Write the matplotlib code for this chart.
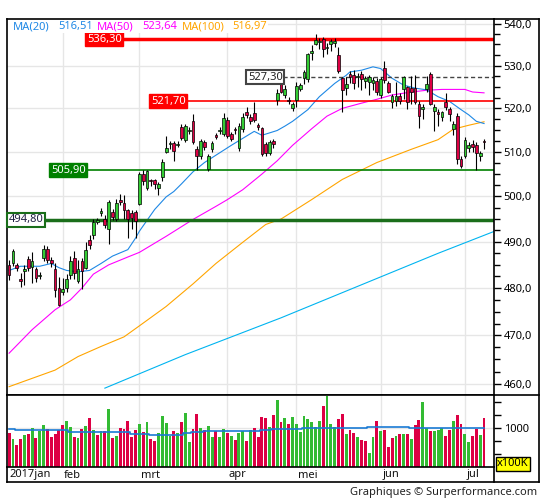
import matplotlib
matplotlib.use("Agg")
import matplotlib.pyplot as plt
from matplotlib.lines import Line2D
from matplotlib.patches import Rectangle
from matplotlib.ticker import FixedLocator, FuncFormatter, NullFormatter
from matplotlib.transforms import blended_transform_factory
import numpy as np
import pandas as pd

plt.rcParams['font.family'] = ['Noto Sans', 'DejaVu Sans']

### Data: AEX daily bars, 12 jan - 10 jul 2017
days = pd.bdate_range('2017-01-12', '2017-07-10')
days = days.drop(pd.to_datetime(['2017-04-14', '2017-04-17', '2017-05-01']))
month_names = ['jan', 'feb', 'mrt', 'apr', 'mei', 'jun', 'jul']

opens = [485.0, 485.4, 484.9, 482.0, 483.6, 486.3, 484.6, 484.2, 482.5, 486.4,
         488.4, 486.1, 484.2, 480.0, 479.2, 480.0, 482.9, 486.5, 481.6, 485.8,
         484.4, 490.5, 491.6, 494.4, 496.4, 495.1, 492.7, 496.6, 494.9, 499.2,
         498.5, 497.1, 496.4, 496.5, 498.4, 505.1, 501.8, 503.7, 503.7, 501.9,
         504.4, 510.0, 511.7, 512.1, 511.5, 515.8, 512.8, 514.8, 517.0, 510.6,
         509.1, 512.2, 506.2, 510.6, 513.8, 514.7, 514.2, 517.4, 514.0, 515.2,
         510.8, 515.2, 519.2, 518.1, 518.9, 516.1, 515.5, 511.8, 509.8, 512.5,
         521.9, 525.7, 523.0, 522.0, 520.0, 521.9, 524.6, 527.1, 526.8, 533.0,
         535.1, 535.5, 536.4, 534.1, 535.0, 535.3, 532.4, 527.0, 524.7, 528.0,
         527.7, 527.2, 528.0, 526.3, 526.2, 525.8, 526.4, 523.0, 529.5, 525.9,
         521.4, 521.8, 522.9, 524.4, 524.9, 524.7, 524.7, 521.0, 519.9, 524.4,
         528.0, 519.3, 519.2, 517.9, 521.4, 519.9, 515.3, 518.3, 508.5, 509.1,
         510.9, 511.9, 511.5, 509.1, 512.5]
highs = [486.0, 488.5, 485.5, 483.3, 484.9, 487.0, 487.8, 484.6, 483.5, 489.3,
         489.0, 486.8, 485.5, 482.4, 482.2, 483.0, 487.0, 488.0, 486.0, 486.5,
         490.0, 491.5, 494.9, 495.2, 497.4, 495.8, 499.3, 497.3, 499.5, 500.5,
         500.4, 497.3, 497.0, 497.0, 505.5, 506.0, 506.0, 503.8, 504.0, 503.2,
         508.5, 513.7, 512.5, 512.6, 512.4, 516.5, 516.5, 515.6, 518.8, 511.3,
         513.0, 512.8, 509.6, 512.4, 514.3, 515.6, 519.0, 518.0, 514.6, 515.8,
         516.6, 519.0, 520.2, 518.8, 521.4, 516.6, 515.8, 512.3, 512.8, 513.0,
         524.4, 526.3, 525.5, 522.6, 521.5, 526.2, 526.0, 529.0, 533.0, 534.8,
         537.5, 536.6, 536.9, 535.4, 536.3, 536.6, 534.5, 527.4, 527.3, 528.8,
         529.0, 528.2, 528.7, 527.6, 527.8, 527.3, 527.0, 527.3, 531.0, 526.3,
         523.4, 526.1, 523.5, 527.6, 525.3, 527.5, 527.7, 521.6, 521.0, 527.5,
         528.4, 520.9, 519.8, 519.5, 523.6, 520.3, 517.0, 518.9, 509.0, 513.5,
         512.2, 512.7, 512.3, 510.2, 513.0]
lows = [481.8, 484.8, 483.6, 480.2, 480.6, 483.6, 481.1, 481.3, 482.0, 485.8,
        485.4, 484.6, 478.2, 476.3, 478.6, 479.1, 481.9, 482.0, 481.0, 479.8,
        484.0, 488.5, 490.6, 494.0, 495.6, 493.0, 489.6, 494.8, 494.5, 498.1,
        494.9, 490.9, 492.7, 490.8, 498.0, 502.5, 501.5, 502.3, 501.7, 500.4,
        503.4, 509.7, 510.6, 508.0, 511.2, 512.8, 512.3, 514.2, 511.8, 506.0,
        508.5, 510.4, 505.6, 510.0, 513.0, 514.2, 513.6, 513.2, 512.4, 514.0,
        510.2, 514.5, 517.8, 516.4, 516.8, 515.0, 509.1, 509.0, 509.3, 510.8,
        520.8, 523.5, 522.5, 521.0, 519.3, 520.3, 524.0, 525.6, 526.1, 531.4,
        534.9, 534.0, 532.1, 532.7, 533.5, 534.3, 528.2, 519.2, 523.0, 526.0,
        524.4, 525.0, 524.2, 524.8, 523.0, 524.3, 523.0, 522.5, 525.8, 523.5,
        520.0, 520.6, 520.9, 522.1, 519.9, 520.9, 521.0, 515.5, 517.5, 523.8,
        520.8, 514.8, 516.0, 517.0, 519.6, 517.1, 513.9, 507.3, 506.4, 508.7,
        510.0, 510.0, 506.0, 507.9, 510.6]
closes = [482.8, 488.0, 484.3, 481.5, 484.2, 484.4, 485.8, 482.2, 482.8, 488.4,
          486.0, 485.5, 479.6, 476.5, 479.8, 482.0, 485.8, 483.2, 484.0, 483.6,
          488.3, 489.2, 494.3, 494.7, 496.8, 493.6, 498.8, 495.4, 498.6, 498.7,
          497.1, 494.9, 495.3, 494.6, 505.1, 503.4, 505.7, 503.4, 502.8, 502.7,
          507.8, 511.0, 512.0, 510.3, 511.8, 513.2, 516.0, 515.0, 512.2, 509.1,
          512.5, 511.1, 509.1, 512.0, 513.4, 515.1, 517.7, 513.7, 512.9, 514.9,
          516.0, 518.1, 518.5, 517.0, 517.2, 515.6, 509.5, 509.7, 512.2, 511.7,
          523.6, 523.8, 524.4, 521.6, 520.9, 525.3, 525.4, 528.4, 532.7, 533.5,
          536.1, 535.8, 534.0, 534.4, 535.8, 535.9, 528.8, 524.2, 525.7, 527.2,
          526.0, 527.6, 526.8, 527.0, 527.2, 526.6, 523.7, 526.8, 526.6, 523.9,
          522.9, 522.9, 521.8, 527.3, 521.4, 523.8, 521.4, 518.3, 520.4, 525.6,
          521.0, 520.2, 518.8, 519.1, 520.3, 518.7, 516.4, 508.3, 506.9, 512.8,
          511.6, 511.1, 509.7, 509.7, 512.3]

# volume in units of 100K
volumes = [903, 787, 670, 787, 864, 884, 1000, 806, 948, 1058,
           981, 825, 884, 955, 1058, 1136, 1019, 825, 806, 981,
           1039, 1194, 961, 864, 942, 942, 1369, 806, 845, 1000,
           981, 1136, 825, 961, 1078, 922, 1116, 787, 748, 903,
           1233, 1097, 845, 942, 903, 1116, 1291, 728, 981, 1272,
           1000, 961, 1039, 825, 942, 825, 981, 903, 845, 767,
           903, 942, 748, 961, 1000, 825, 1213, 1194, 1019, 1252,
           1543, 1116, 1194, 1078, 1213, 1078, 922, 1233, 1175, 1116,
           1019, 1136, 1427, 1621, 1078, 1019, 1175, 1272, 884, 961,
           903, 825, 767, 748, 515, 825, 1136, 942, 961, 631,
           806, 845, 884, 884, 884, 787, 1058, 1155, 1504, 1000,
           942, 942, 961, 1000, 845, 961, 1136, 1252, 1078, 884,
           728, 845, 981, 864, 1194]
vol_colour = ("rgrrgrgrgg" "rrrrrggrgr" "grgrgrgrgr" "rrrrgrgrrg" "gggrgrggrr"
              "grggrggrgr" "ggrgrrrrgr" "grgrgggggg" "ggrgggrrgr" "rgrrggrgrr"
              "rgrgrgrrgg" "rgggrrgrrg" "grrgr")
vol_avg = [975, 975, 955, 955, 955, 955, 955, 955, 955, 955,
           955, 955, 955, 955, 955, 955, 922, 922, 922, 922,
           922, 922, 922, 922, 922, 922, 922, 922, 922, 922,
           922, 922, 890, 890, 890, 890, 890, 870, 870, 870,
           870, 870, 870, 870, 870, 870, 900, 900, 922, 922,
           922, 936, 936, 936, 936, 936, 936, 936, 936, 936,
           936, 936, 936, 936, 936, 936, 955, 955, 955, 975,
           975, 975, 975, 975, 975, 975, 975, 1000, 1000, 1000,
           1000, 1000, 1000, 1000, 1000, 1000, 1000, 1000, 1000, 1000,
           1000, 1000, 1000, 1000, 1019, 1019, 1019, 1019, 1019, 1019,
           1019, 1019, 1019, 1019, 1019, 1000, 1000, 1000, 1000, 1000,
           1000, 1000, 1000, 1000, 1000, 1000, 1000, 1000, 1000, 1000,
           1000, 1000, 1000, 1000, 1000]

# moving averages, read at some bars
ma20_at = [0, 3, 8, 11, 13, 15, 18, 21, 24, 27, 31, 33, 34, 36, 38, 41, 43, 45, 48, 51,
           58, 64, 66, 70, 72, 74, 78, 81, 85, 88, 89, 92, 95, 97, 100, 103, 106, 109, 112, 115,
           118, 120, 122, 124]
ma20 = [483.8, 484.7, 484.7, 485.3, 484.4, 483.8, 483.5, 483.8, 485.3, 486.9,
        488.3, 490.8, 492.3, 494.7, 497.1, 499.9, 501.1, 502.8, 505.5, 507.6,
        511.5, 514.7, 513.8, 514.9, 515.9, 517.0, 519.7, 522.7, 525.8, 527.7,
        528.5, 528.9, 529.7, 529.3, 527.0, 525.4, 524.7, 524.3, 522.7, 521.6,
        519.7, 518.5, 517.0, 516.5]
ma50_at = [0, 6, 12, 16, 19, 22, 26, 31, 34, 41, 48, 54, 57, 61, 66, 70, 74, 79, 83, 87,
           92, 96, 100, 105, 109, 113, 119, 121, 124]
ma50 = [466.3, 471.2, 475.4, 477.5, 480.0, 483.0, 485.0, 486.7, 487.7, 491.2,
        494.9, 497.8, 499.3, 501.5, 505.0, 508.0, 511.5, 515.3, 518.2, 520.0,
        521.2, 522.1, 523.1, 523.8, 524.2, 524.4, 524.4, 523.8, 523.6]
ma100_at = [0, 6, 12, 18, 24, 30, 34, 41, 48, 54, 61, 67, 71, 79, 87, 96, 105, 112, 116, 120, 124]
ma100 = [459.4, 461.1, 462.8, 465.6, 467.7, 469.7, 472.0, 476.1, 480.9, 485.3,
         489.9, 493.8, 495.0, 499.3, 503.8, 507.6, 510.6, 512.8, 515.2, 516.1, 516.9]
trend_at = [25, 46, 71, 112, 127]
trend = [459.1, 466.0, 473.7, 487.5, 492.4]
ma_last = [516.51, 523.64, 516.97]

level_values = [536.30, 521.70, 527.30, 505.90, 494.80]

### Layout (pixel helpers for a 545x500 figure)
W, H = 545, 500
def fx(px):
    return px / W
def fy(py):
    return 1 - py / H

fig = plt.figure(figsize=(W / 100, H / 100), dpi=100)
ax = fig.add_axes([fx(7), fy(395), fx(494) - fx(7), fy(19) - fy(395)])
axv = fig.add_axes([fx(7), fy(467), fx(494) - fx(7), fy(395) - fy(467)], sharex=ax)

x = np.arange(len(days))
o, h, l, c = map(np.array, (opens, highs, lows, closes))
up = c >= o
month_starts = [i for i in range(len(days)) if i == 0 or days[i].month != days[i - 1].month]

grid_col = '#e6e6e6'
for m in month_starts[1:]:
    ax.axvline(m, color=grid_col, lw=1, zorder=0)
    axv.axvline(m, color=grid_col, lw=1, zorder=0)

### Price panel
ax.set_yscale('log')
ax.set_xlim(-0.55, 126.6)
ax.set_ylim(457.7, 541.1)
ax.yaxis.set_major_locator(FixedLocator(np.arange(460, 541, 10)))
ax.yaxis.set_minor_locator(FixedLocator([v for v in np.arange(457.5, 541, 2.5) if v % 10]))
ax.yaxis.set_major_formatter(FuncFormatter(lambda v, p: f"{v:.1f}".replace('.', ',')))
ax.yaxis.set_minor_formatter(NullFormatter())
ax.yaxis.tick_right()
ax.tick_params(axis='y', which='major', direction='out', length=5, width=1, labelsize=8, pad=2)
ax.tick_params(axis='y', which='minor', direction='out', length=4, width=1)
ax.tick_params(axis='x', which='both', bottom=False, labelbottom=False)
ax.yaxis.grid(True, which='major', color=grid_col, lw=1, zorder=0)
ax.set_axisbelow(True)

ax.plot(trend_at, trend, color='#00b4f0', lw=0.8, zorder=2)
ax.plot(ma100_at, ma100, color='#ffa500', lw=0.8, zorder=2)
ax.plot(ma50_at, ma50, color='#ff00ff', lw=0.8, zorder=2)
ax.plot(ma20_at, ma20, color='#1e88e5', lw=0.8, zorder=2)

level_style = [
    dict(start=29.5, color='#ff0000', lw=2.5, ls='-', fc='#ff0000', ec='#ff0000', tc='white'),
    dict(start=46.2, color='#ff0000', lw=1.2, ls='-', fc='#ff0000', ec='#ff0000', tc='white'),
    dict(start=71.5, color='#444444', lw=1.0, ls=(0, (3, 2)), fc='white', ec='#444444', tc='#222222'),
    dict(start=20.1, color='#008000', lw=1.2, ls='-', fc='#008000', ec='#008000', tc='white'),
    dict(start=9.1, color='#1a6e1a', lw=2.5, ls='-', fc='white', ec='#1a6e1a', tc='#222244'),
]
for v, st in zip(level_values, level_style):
    ax.plot([st['start'], 127], [v, v], color=st['color'], lw=st['lw'], ls=st['ls'], zorder=2.5)
    ax.text(st['start'] - 0.1, v, f"{v:.2f}".replace('.', ','), ha='right', va='center',
            fontsize=8, color=st['tc'], zorder=7,
            bbox=dict(boxstyle='square,pad=0.15', fc=st['fc'], ec=st['ec'],
                      lw=1.5 if st['fc'] == 'white' else 1))

ax.vlines(x, l, h, color='black', lw=0.8, zorder=3)
ax.bar(x, np.maximum(np.abs(c - o), 0.25), bottom=np.minimum(o, c), width=0.72,
       color=np.where(up, '#33cc33', '#dd0044'), edgecolor='black', linewidth=0.5, zorder=4)

### Volume panel
vcols = ['#33bb33' if k == 'g' else '#dd0044' for k in vol_colour]
axv.bar(x, volumes, width=0.75, color=vcols, zorder=2)
axv.plot(x, vol_avg, drawstyle='steps-mid', color='#1a7ad4', lw=1.2, zorder=3)
axv.set_ylim(243, 1634)
axv.yaxis.set_major_locator(FixedLocator([1000]))
axv.yaxis.set_minor_locator(FixedLocator([500, 750, 1250, 1500]))
axv.yaxis.set_minor_formatter(NullFormatter())
axv.yaxis.tick_right()
axv.tick_params(axis='y', which='both', direction='out', length=5, width=1, labelsize=8, pad=2)
axv.tick_params(axis='x', which='both', bottom=False, labelbottom=False)
axv.axhline(1000, color=grid_col, lw=1, zorder=0)

for a in (ax, axv):
    for s in a.spines.values():
        s.set_linewidth(1.2)

### Month labels
trans = blended_transform_factory(ax.transData, fig.transFigure)
for k, m in enumerate(month_starts):
    label = ('2017' if k == 0 else '') + month_names[k]
    ax.text(m + (0.2 if k == 0 else 0.4), fy(475), label, transform=trans,
            ha='left', va='center', fontsize=8, color='#111111')

### Outer frame
frame = [((494, 19), (539, 19)), ((539, 19), (539, 482)), ((494, 395), (539, 395)),
         ((7, 482), (539, 482)), ((7, 467), (7, 482)), ((494, 467), (494, 482))]
for (x0, y0), (x1, y1) in frame:
    fig.add_artist(Line2D([fx(x0), fx(x1)], [fy(y0), fy(y1)], color='black', lw=1.2,
                          transform=fig.transFigure))

### Legend row
fig.add_artist(Rectangle((fx(8), fy(33)), fx(268) - fx(8), fy(20) - fy(33),
                         transform=fig.transFigure, fc='white', ec='none', zorder=5))
legend_items = [('MA(20)', '#1e88e5', 13), (f"{ma_last[0]:.2f}".replace('.', ','), '#1e88e5', 58),
                ('MA(50)', '#ff00ff', 97), (f"{ma_last[1]:.2f}".replace('.', ','), '#ff00ff', 142),
                ('MA(100)', '#ffa500', 182), (f"{ma_last[2]:.2f}".replace('.', ','), '#ffa500', 232)]
for txt, col, px in legend_items:
    fig.text(fx(px), fy(27), txt, color=col, fontsize=8, ha='left', va='center', zorder=6)

fig.text(fx(497), fy(464), 'x100K', fontsize=8, ha='left', va='center', zorder=6,
         bbox=dict(boxstyle='square,pad=0.1', fc='#ffff00', ec='black', lw=1))
fig.text(fx(537), fy(492), 'Graphiques \u00a9 Surperformance.com', fontsize=8,
         ha='right', va='center', color='#222222')

fig.savefig('out.png', dpi=100)
